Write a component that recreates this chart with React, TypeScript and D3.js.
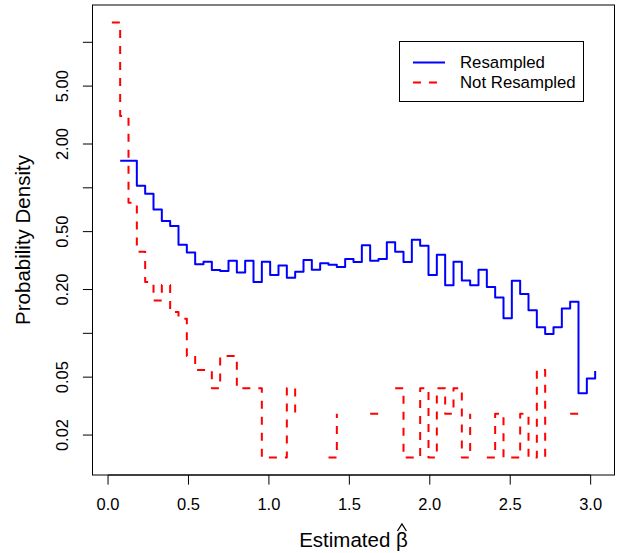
import React, { useLayoutEffect, useRef, useState } from "react";
import * as d3 from "d3";

// Histogram break points (left edges of the step plot), x in units of beta-hat
const BREAK_START = 0.0236;
const BIN_WIDTH = 0.0518;
const N_POINTS = 59;

// Probability density per break point (0 = empty bin, not drawn on log axis)
const resampled = [
  0, 1.536, 1.536, 1.034, 0.91, 0.711, 0.591, 0.546, 0.406, 0.36,
  0.298, 0.311, 0.272, 0.268, 0.316, 0.262, 0.316, 0.225, 0.311, 0.252,
  0.292, 0.241, 0.265, 0.319, 0.274, 0.303, 0.296, 0.286, 0.324, 0.309,
  0.403, 0.316, 0.324, 0.422, 0.364, 0.309, 0.44, 0.4, 0.252, 0.347,
  0.214, 0.311, 0.231, 0.214, 0.274, 0.208, 0.176, 0.127, 0.23, 0.186,
  0.144, 0.11, 0.099, 0.11, 0.148, 0.165, 0.0387, 0.049, 0.055,
];

const notResampled = [
  13.7, 3.11, 0.79, 0.364, 0.225, 0.168, 0.215, 0.14, 0.126, 0.07,
  0.056, 0.056, 0.042, 0.07, 0.07, 0.042, 0.042, 0.042, 0.014, 0.014,
  0.014, 0.042, 0.028, 0, 0, 0, 0.014, 0.028, 0, 0,
  0, 0.028, 0.028, 0, 0.042, 0.014, 0.014, 0.042, 0.014, 0.042,
  0.028, 0.042, 0.014, 0.028, 0, 0.014, 0.028, 0.014, 0.014, 0.028,
  0.014, 0.056, 0.014, 0, 0, 0.028, 0.028, 0, 0,
];

const xTicks = [0, 0.5, 1, 1.5, 2, 2.5, 3];
const xTickLabels = ["0.0", "0.5", "1.0", "1.5", "2.0", "2.5", "3.0"];
const yTicks = [0.02, 0.05, 0.1, 0.2, 0.5, 1, 2, 5, 10];
const yTickLabels = ["0.02", "0.05", "", "0.20", "0.50", "", "2.00", "5.00", ""];
const seriesNames = ["Resampled", "Not Resampled"];
const seriesColors = ["#0000FF", "#FF0000"];

const W = 636;
const H = 553;
const PLOT = { left: 92.5, right: 614.5, top: 5, bottom: 475 };
const FONT = "'Liberation Sans', Arial, Helvetica, sans-serif";

export default function App() {
  const breaks = d3.range(N_POINTS).map((i) => BREAK_START + i * BIN_WIDTH);

  // R-style 4% axis padding
  const xExt = d3.extent(breaks) as [number, number];
  const xPad = (xExt[1] - xExt[0]) * 0.04;
  const x = d3
    .scaleLinear()
    .domain([xExt[0] - xPad, xExt[1] + xPad])
    .range([PLOT.left, PLOT.right]);

  const positives = [...resampled, ...notResampled].filter((v) => v > 0);
  const lMin = Math.log10(d3.min(positives) as number);
  const lMax = Math.log10(d3.max(positives) as number);
  const lPad = (lMax - lMin) * 0.04;
  const y = d3
    .scaleLog()
    .domain([Math.pow(10, lMin - lPad), Math.pow(10, lMax + lPad)])
    .range([PLOT.bottom, PLOT.top]);

  const line = d3
    .line<number>()
    .defined((v) => v > 0)
    .x((_, i) => x(breaks[i]))
    .y((v) => y(v))
    .curve(d3.curveStepAfter);

  const betaRef = useRef<SVGTSpanElement>(null);
  const [hat, setHat] = useState<{ x: number; w: number; top: number } | null>(null);
  useLayoutEffect(() => {
    const el = betaRef.current as any;
    if (el && el.getExtentOfChar) {
      try {
        const r = el.getExtentOfChar(0);
        setHat({ x: r.x, w: r.width, top: r.y });
      } catch (e) {}
    }
  }, []);

  const xTitleY = 547;
  const legend = { x: 399.5, y: 41.5, w: 184, h: 60 };

  return (
    <svg
      width={W}
      height={H}
      style={{ position: "absolute", left: 0, top: 0, background: "#fff" }}
      fontFamily={FONT}
    >
      <rect x={0} y={0} width={W} height={H} fill="#fff" />
      {/* series */}
      <path
        d={line(resampled) || ""}
        fill="none"
        stroke={seriesColors[0]}
        strokeWidth={2}
        strokeLinejoin="round"
        strokeLinecap="butt"
      />
      <path
        d={line(notResampled) || ""}
        fill="none"
        stroke={seriesColors[1]}
        strokeWidth={2}
        strokeDasharray="8,8"
        strokeLinejoin="round"
        strokeLinecap="butt"
      />
      {/* box */}
      <rect
        x={PLOT.left}
        y={PLOT.top}
        width={PLOT.right - PLOT.left}
        height={PLOT.bottom - PLOT.top}
        fill="none"
        stroke="#000"
        strokeWidth={1}
      />
      {/* x axis */}
      <line x1={x(xTicks[0])} x2={x(xTicks[xTicks.length - 1])} y1={PLOT.bottom} y2={PLOT.bottom} stroke="#000" />
      {xTicks.map((t, i) => (
        <g key={"xt" + i}>
          <line x1={x(t)} x2={x(t)} y1={PLOT.bottom} y2={PLOT.bottom + 9.6} stroke="#000" />
          <text x={x(t)} y={510} fontSize={16.5} textAnchor="middle" fill="#000">
            {xTickLabels[i]}
          </text>
        </g>
      ))}
      {/* y axis */}
      <line x1={PLOT.left} x2={PLOT.left} y1={y(yTicks[0])} y2={y(yTicks[yTicks.length - 1])} stroke="#000" />
      {yTicks.map((t, i) => (
        <g key={"yt" + i}>
          <line x1={PLOT.left} x2={PLOT.left - 9.6} y1={y(t)} y2={y(t)} stroke="#000" />
          {yTickLabels[i] && (
            <text
              transform={`translate(68,${y(t)}) rotate(-90)`}
              fontSize={16.5}
              textAnchor="middle"
              fill="#000"
            >
              {yTickLabels[i]}
            </text>
          )}
        </g>
      ))}
      {/* axis titles */}
      <text
        transform={`translate(29.5,${(PLOT.top + PLOT.bottom) / 2}) rotate(-90)`}
        fontSize={20.5}
        textAnchor="middle"
        fill="#000"
      >
        Probability Density
      </text>
      <text x={(PLOT.left + PLOT.right) / 2} y={xTitleY} fontSize={20.5} textAnchor="middle" fill="#000">
        Estimated <tspan ref={betaRef}>β</tspan>
      </text>
      {hat && (
        <path
          d={`M${hat.x + hat.w * 0.12},${xTitleY - 16} L${hat.x + hat.w / 2},${xTitleY - 23} L${hat.x + hat.w * 0.88},${xTitleY - 16}`}
          fill="none"
          stroke="#000"
          strokeWidth={1.3}
        />
      )}
      {/* legend */}
      <rect x={legend.x} y={legend.y} width={legend.w} height={legend.h} fill="#fff" stroke="#000" strokeWidth={1} />
      {seriesNames.map((name, i) => {
        const cy = 62.5 + i * 20;
        return (
          <g key={name}>
            <line
              x1={413}
              x2={445}
              y1={cy}
              y2={cy}
              stroke={seriesColors[i]}
              strokeWidth={2}
              strokeDasharray={i === 1 ? "8,8" : undefined}
            />
            <text x={460} y={cy} dy="0.35em" fontSize={16.8} fill="#000">
              {name}
            </text>
          </g>
        );
      })}
    </svg>
  );
}
